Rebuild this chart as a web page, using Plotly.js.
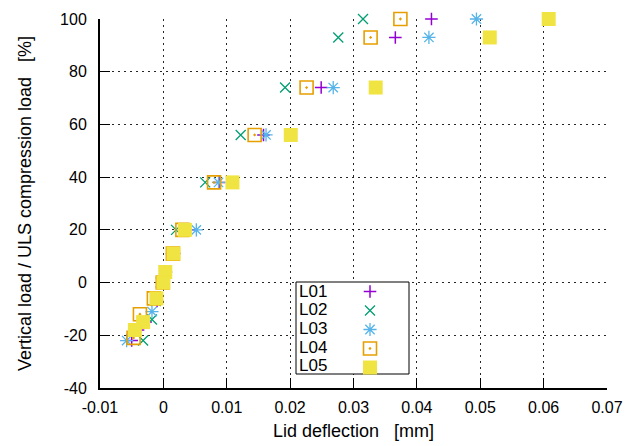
<!DOCTYPE html>
<html>
<head>
<meta charset="utf-8">
<script src="https://cdn.plot.ly/plotly-3.0.1.min.js"></script>
<style>html,body{margin:0;padding:0;background:#fff;}#chart{width:634px;height:446px;}</style>
</head>
<body>
<div id="chart"></div>
<script>
// Series names
const seriesNames = ['L01', 'L02', 'L03', 'L04', 'L05'];

// Lid deflection [mm] and vertical load [%] per series
const L01_x = [0.0423, 0.0366, 0.0249, 0.0158, 0.0088, 0.0040, 0.0017, 0.0004, 0.0000, -0.0010, -0.0028, -0.0040, -0.0050];
const L01_y = [100, 93, 74, 56, 38, 20, 11, 4, 0, -7, -15, -18, -22];

const L02_x = [0.0315, 0.0276, 0.0192, 0.0122, 0.0066, 0.0020, 0.0015, -0.0004, -0.0012, -0.0018, -0.0032];
const L02_y = [100, 93, 74, 56, 38, 20, 11, 0, -7, -14, -22];

const L03_x = [0.0494, 0.0419, 0.0268, 0.0162, 0.0087, 0.0052, 0.0014, 0.0000, -0.0018, -0.0058];
const L03_y = [100, 93, 74, 56, 38, 20, 11, 0, -11, -22];

const L04_x = [0.0374, 0.0327, 0.0226, 0.0144, 0.0080, 0.0030, 0.0015, -0.0001, -0.0015, -0.0037, -0.0047];
const L04_y = [100, 93, 74, 56, 38, 20, 11, 0, -6, -12, -21];

const L05_x = [0.0608, 0.0515, 0.0335, 0.0201, 0.0109, 0.0034, 0.0016, 0.0003, 0.0000, -0.0011, -0.0032, -0.0045];
const L05_y = [100, 93, 74, 56, 38, 20, 11, 4, 0, -6, -15, -18];

// Tick labels
const xTickVals = [-0.01, 0, 0.01, 0.02, 0.03, 0.04, 0.05, 0.06, 0.07];
const xTickText = ['-0.01', '0', '0.01', '0.02', '0.03', '0.04', '0.05', '0.06', '0.07'];
const yTickVals = [-40, -20, 0, 20, 40, 60, 80, 100];
const yTickText = ['-40', '-20', '0', '20', '40', '60', '80', '100'];

const xs = [L01_x, L02_x, L03_x, L04_x, L05_x];
const ys = [L01_y, L02_y, L03_y, L04_y, L05_y];
const colors = ['#9400d3', '#009e73', '#56b4e9', '#e69f00', '#f0e442'];
const markers = [
  {symbol: 'cross-thin-open', size: 9, line: {width: 1.5, color: colors[0]}, color: colors[0]},
  {symbol: 'x-thin-open', size: 10, line: {width: 1.3, color: colors[1]}, color: colors[1]},
  {symbol: 'asterisk-open', size: 11, line: {width: 1.3, color: colors[2]}, color: colors[2]},
  {symbol: 'square-open-dot', size: 13, line: {width: 1.6, color: colors[3]}, color: colors[3]},
  {symbol: 'square', size: 14, line: {width: 0}, color: colors[4]}
];

const traces = seriesNames.map((n, i) => ({
  type: 'scatter', mode: 'markers', name: ' ',
  x: xs[i], y: ys[i], marker: markers[i], cliponaxis: false, showlegend: true
}));

// Legend layout (label on the left, symbol on the right, gnuplot style)
const plotL = 100, plotR = 607, plotT = 19, plotB = 388;
const px2paperX = p => (p - plotL) / (plotR - plotL);
const px2paperY = p => (plotB - p) / (plotB - plotT);
const legRow0 = 291, legRowStep = 18.7;

const annotations = seriesNames.map((n, i) => ({
  xref: 'paper', yref: 'paper', x: px2paperX(297), xanchor: 'left',
  y: px2paperY(legRow0 + i * legRowStep), yanchor: 'middle',
  text: n, showarrow: false, font: {size: 17, color: '#000'}
}));

const gridDash = '2px,4px';
const layout = {
  width: 634, height: 446,
  margin: {l: plotL, r: 634 - plotR, t: plotT, b: 446 - plotB, pad: 0},
  paper_bgcolor: '#fff', plot_bgcolor: '#fff',
  font: {family: '"Liberation Sans", Arial, sans-serif', size: 16, color: '#000'},
  showlegend: true,
  xaxis: {
    range: [-0.01, 0.07], tickmode: 'array', tickvals: xTickVals, ticktext: xTickText,
    ticks: 'inside', ticklen: 10, tickwidth: 1, tickcolor: '#000',
    showline: true, linewidth: 2, linecolor: '#000', mirror: false,
    showgrid: true, gridcolor: 'rgba(0,0,0,0.85)', gridwidth: 1, griddash: gridDash,
    zeroline: false, automargin: false, ticklabelstandoff: 4,
    title: {text: 'Lid deflection\u00a0\u00a0\u00a0[mm]', standoff: 9, font: {size: 18}}
  },
  yaxis: {
    range: [-40, 100], tickmode: 'array', tickvals: yTickVals, ticktext: yTickText,
    ticks: 'inside', ticklen: 10, tickwidth: 1, tickcolor: '#000',
    showline: true, linewidth: 2, linecolor: '#000', mirror: false,
    showgrid: true, gridcolor: 'rgba(0,0,0,0.85)', gridwidth: 1, griddash: gridDash,
    zeroline: false, automargin: false, ticklabelstandoff: 8,
    title: {text: 'Vertical load / ULS compression load\u00a0\u00a0\u00a0[%]', standoff: 24, font: {size: 18}}
  },
  legend: {
    x: px2paperX(350), y: px2paperY(277), xanchor: 'left', yanchor: 'top',
    bgcolor: 'rgba(0,0,0,0)', borderwidth: 0, font: {size: 12}, tracegroupgap: 0
  },
  shapes: [{
    type: 'rect', xref: 'paper', yref: 'paper', layer: 'above',
    x0: px2paperX(296), x1: px2paperX(409), y0: px2paperY(374), y1: px2paperY(282),
    line: {color: '#000', width: 1}, fillcolor: '#fff'
  }],
  annotations: annotations
};

Plotly.newPlot('chart', traces, layout, {staticPlot: true, displayModeBar: false});
</script>
</body>
</html>
